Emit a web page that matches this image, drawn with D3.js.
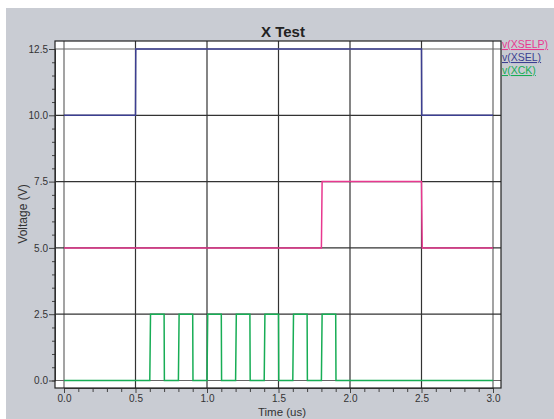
<!DOCTYPE html>
<html><head><meta charset="utf-8">
<script src="https://cdn.jsdelivr.net/npm/d3@7"></script>
<style>body{margin:0;background:#fff}svg{display:block;font-family:"Liberation Sans",Arial,sans-serif}</style>
</head><body><svg id="c" width="554" height="419"></svg>
<script>
const title = "X Test";
const xLabel = "Time (us)";
const yLabel = "Voltage (V)";
const xTicks = [0, 0.5, 1.0, 1.5, 2.0, 2.5, 3.0];
const yTicks = [0, 2.5, 5.0, 7.5, 10.0, 12.5];
const seriesNames = ["v(XSELP)", "v(XSEL)", "v(XCK)"];
const seriesColors = ["#e8388f", "#3c3f91", "#17ad55"];
// [time, value] pairs
const xselp = [[0,5],[1.8,5],[1.805,7.5],[2.5,7.5],[2.505,5],[3,5]];
const xsel = [[0,10],[0.5,10],[0.502,12.5],[2.5,12.5],[2.502,10],[3,10]];
const xck = [[0,0],[0.6,0],[0.605,2.5],[0.7,2.5],[0.702,0],[0.8,0],[0.805,2.5],[0.9,2.5],[0.902,0],
 [1.0,0],[1.005,2.5],[1.1,2.5],[1.102,0],[1.2,0],[1.205,2.5],[1.3,2.5],[1.302,0],
 [1.4,0],[1.405,2.5],[1.5,2.5],[1.502,0],[1.6,0],[1.605,2.5],[1.7,2.5],[1.702,0],
 [1.8,0],[1.805,2.5],[1.9,2.5],[1.902,0],[3,0]];
const seriesData = [xselp, xsel, xck];

const svg = d3.select("#c");
svg.append("rect").attr("x",6).attr("y",8).attr("width",548).attr("height",411).attr("fill","#c9ccd3");
const fL=55, fT=41, fR=501, fB=388;
svg.append("rect").attr("x",fL).attr("y",fT).attr("width",fR-fL).attr("height",fB-fT).attr("fill","#fff");

const x = d3.scaleLinear().domain([0,3]).range([64,493]);
const y = d3.scaleLinear().domain([0,12.5]).range([380.5,49]);

// grid
svg.append("g").selectAll("line").data(xTicks).join("line")
  .attr("x1",d=>x(d)).attr("x2",d=>x(d)).attr("y1",fT).attr("y2",fB)
  .attr("stroke",d=>d===0||d===3?"#666":"#333").attr("stroke-width",1.2);
svg.append("g").selectAll("line").data(yTicks).join("line")
  .attr("x1",fL).attr("x2",fR).attr("y1",d=>y(d)).attr("y2",d=>y(d))
  .attr("stroke",d=>d===0||d===12.5?"#666":"#333").attr("stroke-width",1.2);

// axes
const xAxis = d3.axisBottom(x).tickValues(d3.range(0,3.0001,0.1)).tickSize(4)
  .tickFormat(d=>{const r=Math.round(d*10);return r%5===0?d3.format(".1f")(d):"";});
const gx = svg.append("g").attr("transform",`translate(0,${fB})`).call(xAxis);
gx.select(".domain").attr("stroke","#444");
gx.selectAll(".tick line").attr("stroke","#444").attr("y2",d=>Math.round(d*10)%5===0?5:4);
gx.selectAll(".tick text").attr("fill","#333").attr("font-size",10).attr("y",6).attr("dy","0.75em");
const yAxis = d3.axisLeft(y).tickValues(d3.range(0,12.5001,0.5)).tickSize(3)
  .tickFormat(d=>{const r=Math.round(d*10);return r%25===0?d3.format(".1f")(d):"";});
const gy = svg.append("g").attr("transform",`translate(${fL},0)`).call(yAxis);
gy.select(".domain").attr("stroke","#444");
gy.selectAll(".tick line").attr("stroke","#444").attr("x2",d=>Math.round(d*10)%25===0?-6:-3);
gy.selectAll(".tick text").attr("fill","#333").attr("font-size",10).attr("x",-7);

// frame
svg.append("rect").attr("x",fL).attr("y",fT).attr("width",fR-fL).attr("height",fB-fT)
  .attr("fill","none").attr("stroke","#222").attr("stroke-width",1.2);

// lines
const line = d3.line().x(d=>x(d[0])).y(d=>y(d[1]));
seriesData.forEach((s,i)=>{
  svg.append("path").datum(s).attr("d",line).attr("fill","none")
    .attr("stroke",seriesColors[i]).attr("stroke-width",1.5);
});

// title & labels
svg.append("text").attr("x",283).attr("y",37).attr("text-anchor","middle")
  .attr("font-size",15).attr("font-weight","bold").attr("fill","#222").text(title);
svg.append("text").attr("x",282).attr("y",416).attr("text-anchor","middle")
  .attr("font-size",11.5).attr("fill","#333").text(xLabel);
svg.append("text").attr("transform","translate(27,214) rotate(-90)").attr("text-anchor","middle")
  .attr("font-size",12).attr("fill","#333").text(yLabel);

// legend
seriesNames.forEach((n,i)=>{
  svg.append("text").attr("x",502).attr("y",48+i*13).attr("font-size",10.5)
    .attr("fill",seriesColors[i]).attr("text-decoration","underline").text(n);
});
</script></body></html>
